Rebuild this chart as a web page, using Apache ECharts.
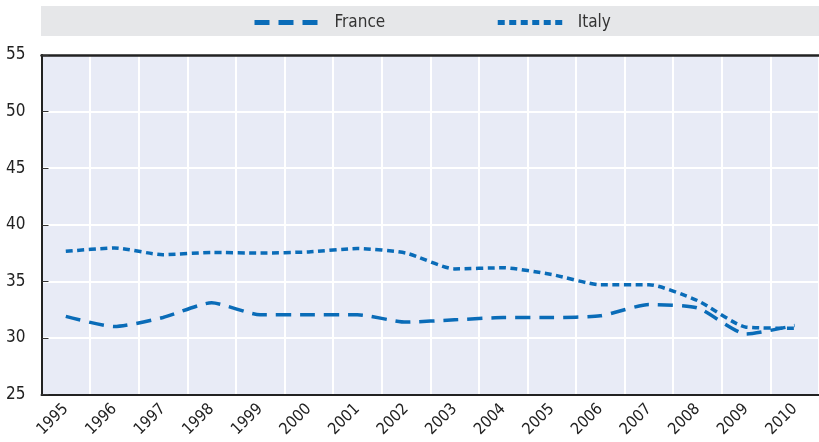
<!DOCTYPE html>
<html>
<head>
<meta charset="utf-8">
<script src="https://cdn.jsdelivr.net/npm/echarts@6/dist/echarts.min.js"></script>
<style>
  html, body { margin: 0; padding: 0; background: #fff; }
  #chart { width: 819px; height: 442px; }
</style>
</head>
<body>
<div id="chart"></div>
<script>
// data
const years = ['1995', '1996', '1997', '1998', '1999', '2000', '2001', '2002',
  '2003', '2004', '2005', '2006', '2007', '2008', '2009', '2010'];
const france = [31.9, 31.0, 31.8, 33.1, 32.05, 32.05, 32.05, 31.4,
  31.6, 31.8, 31.8, 31.95, 32.95, 32.65, 30.35, 31.1];
const italy = [37.65, 37.95, 37.35, 37.55, 37.5, 37.6, 37.9, 37.5,
  36.1, 36.2, 35.6, 34.7, 34.7, 33.3, 30.95, 30.85];
const yTicks = { min: 25, max: 55, step: 5 };

const FONT = "'Liberation Sans Narrow', 'DejaVu Sans Condensed', 'Roboto', sans-serif";
const BLUE = '#0a6cb8';

const chart = echarts.init(document.getElementById('chart'));

const option = {
  animation: false,
  textStyle: { fontFamily: FONT },
  graphic: [
    {
      // grey legend band
      type: 'rect',
      z: -1,
      shape: { x: 41, y: 6, width: 778, height: 30 },
      style: { fill: '#e6e7e9' }
    }
  ],
  legend: {
    top: 9,
    left: 247,
    itemWidth: 67,
    itemHeight: 14,
    itemGap: 110,
    // hide the marker dot, keep only the dashed line
    itemStyle: { color: 'transparent', borderWidth: 0 },
    lineStyle: { width: 5 },
    textStyle: { fontFamily: FONT, fontSize: 17, color: '#333', padding: [0, 0, 0, 8] },
    data: ['France', 'Italy']
  },
  grid: {
    left: 41.5,
    right: -10,
    top: 55,
    bottom: 47.5,
    show: true,
    backgroundColor: '#e8ebf6',
    borderWidth: 0
  },
  xAxis: [
    {
      type: 'category',
      data: years,
      boundaryGap: true,
      axisLine: { lineStyle: { color: '#222', width: 2 } },
      axisTick: { inside: true, length: 6, lineStyle: { color: '#555' } },
      axisLabel: {
        rotate: 45,
        fontSize: 16,
        color: '#222',
        margin: 12,
        fontFamily: FONT
      },
      splitLine: { show: true, lineStyle: { color: '#fff', width: 2 } }
    },
    {
      // dark top border of the plot
      type: 'category',
      data: years,
      position: 'top',
      axisLine: { lineStyle: { color: '#222', width: 2.5 } },
      axisTick: { show: false },
      axisLabel: { show: false },
      splitLine: { show: false }
    }
  ],
  yAxis: {
    type: 'value',
    min: yTicks.min,
    max: yTicks.max,
    interval: yTicks.step,
    axisLine: { show: true, lineStyle: { color: '#222', width: 2 } },
    axisTick: { show: true, inside: true, length: 7, lineStyle: { color: '#333' } },
    axisLabel: { fontSize: 17, color: '#222', margin: 16, fontFamily: FONT },
    splitLine: { show: true, lineStyle: { color: '#fff', width: 2 } }
  },
  series: [
    {
      name: 'France',
      type: 'line',
      data: france,
      symbol: 'none',
      smooth: 0.2,
      itemStyle: { color: BLUE },
      lineStyle: { color: BLUE, width: 3.5, type: [15, 9] }
    },
    {
      name: 'Italy',
      type: 'line',
      data: italy,
      symbol: 'none',
      smooth: 0.2,
      itemStyle: { color: BLUE },
      lineStyle: { color: BLUE, width: 3.5, type: [7, 4.5] }
    }
  ]
};

chart.setOption(option);
</script>
</body>
</html>
